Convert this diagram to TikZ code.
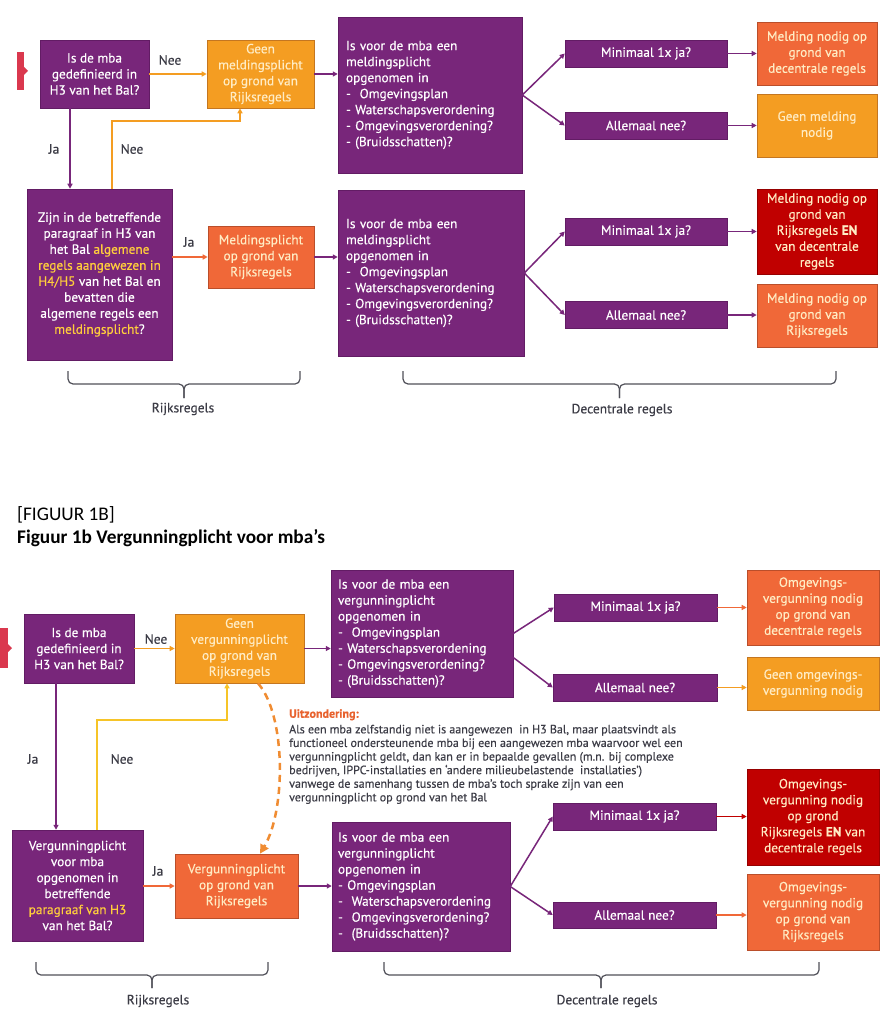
\documentclass[tikz,border=0pt]{standalone}
\usepackage{fontspec}
\setmainfont{PT Sans}[FakeBold=0.35]
\newfontfamily\calibri{Carlito}
\usetikzlibrary{arrows.meta,calc}
\definecolor{purp}{RGB}{120,38,122}
\definecolor{purpd}{RGB}{98,28,100}
\definecolor{orng}{RGB}{244,157,34}
\definecolor{orngd}{RGB}{196,118,32}
\definecolor{ored}{RGB}{240,104,56}
\definecolor{oredd}{RGB}{186,78,42}
\definecolor{dred}{RGB}{192,0,0}
\definecolor{dredd}{RGB}{150,0,0}
\definecolor{cream}{RGB}{255,236,196}
\definecolor{hyel}{RGB}{255,205,60}
\definecolor{nyel}{RGB}{246,196,40}
\definecolor{lblc}{RGB}{60,60,70}
\definecolor{markc}{RGB}{218,56,78}
\definecolor{dasho}{RGB}{240,140,50}
\definecolor{uitz}{RGB}{232,98,46}
\newcommand\hly[1]{\textcolor{hyel}{#1}}
\begin{document}
\begin{tikzpicture}[x=1pt,y=-1pt,
 box/.style={rectangle, inner sep=0pt, align=center, font=\fontsize{13.3}{16}\selectfont},
 pbox/.style={box, fill=purp, draw=purpd, line width=0.5pt, text=white},
 obox/.style={box, fill=orng, draw=orngd, line width=0.6pt, text=cream},
 rbox/.style={box, fill=ored, draw=oredd, line width=0.6pt, text=cream},
 dbox/.style={box, fill=dred, draw=dredd, line width=0.6pt, text=cream},
 lbox/.style={align=left},
 conn/.style={line width=1.5pt, -{Triangle[length=5pt,width=5pt]}},
 arP/.style={conn, draw=purp},
 arO/.style={conn, draw=orng},
 arY/.style={conn, draw=nyel},
 arR/.style={conn, draw=ored},
 arD/.style={conn, draw=dred},
 lbl/.style={text=lblc, font=\fontsize{13.5}{15}\selectfont, inner sep=0pt},
 bracestyle/.style={draw=lblc!90, line width=1.2pt, rounded corners=5pt},
]
\useasboundingbox (0,0) rectangle (882,1024);
\fill[white] (0,0) rectangle (882,1024);

% ================= TOP =================
\fill[markc] (17,52) rectangle (24,90);
\fill[markc] (24,67) -- (28,71) -- (24,75) -- cycle;

\node[pbox, minimum width=109, minimum height=68] (a1) at (94.5,74) {Is de mba\\gedefinieerd in\\H3 van het Bal?};
\node[obox, minimum width=107, minimum height=68] (b1) at (260.5,74) {Geen\\meldingsplicht\\op grond van\\Rijksregels};
\node[pbox, minimum width=145, minimum height=171] (c1) at (99.5,274.5) {Zijn in de betreffende\\paragraaf in H3 van\\het Bal \hly{algemene}\\\hly{regels aangewezen in}\\\hly{H4/H5} van het Bal en\\bevatten die\\algemene regels een\\\hly{meldingsplicht}?};
\node[rbox, minimum width=106, minimum height=62] (d1) at (261,257) {Meldingsplicht\\op grond van\\Rijksregels};
\node[pbox, lbox, minimum width=184, minimum height=156, text width=168] (e1) at (430,95) {Is voor de mba een\\meldingsplicht\\opgenomen in\\-\ \ Omgevingsplan\\- Waterschapsverordening\\- Omgevingsverordening?\\- (Bruidsschatten)?};
\node[pbox, minimum width=162, minimum height=27] (f1) at (646,53.5) {Minimaal 1x ja?};
\node[pbox, minimum width=162, minimum height=27] (g1) at (646,125.5) {Allemaal nee?};
\node[rbox, minimum width=120, minimum height=63] (h1) at (817,53.5) {Melding nodig op\\grond van\\decentrale regels};
\node[obox, minimum width=120, minimum height=63] (i1) at (817,125.5) {Geen melding\\nodig};

\node[pbox, lbox, minimum width=186, minimum height=166, text width=170] (e2) at (431,273) {Is voor de mba een\\meldingsplicht\\opgenomen in\\-\ \ Omgevingsplan\\- Waterschapsverordening\\- Omgevingsverordening?\\- (Bruidsschatten)?};
\node[pbox, minimum width=162, minimum height=27] (f2) at (646,231.5) {Minimaal 1x ja?};
\node[pbox, minimum width=162, minimum height=27] (g2) at (646,315) {Allemaal nee?};
\node[dbox, minimum width=120, minimum height=85] (h2) at (817,231.5) {Melding nodig op\\grond van\\Rijksregels \textbf{EN}\\van decentrale\\regels};
\node[rbox, minimum width=120, minimum height=63] (i2) at (817,315.5) {Melding nodig op\\grond van\\Rijksregels};

% connectors top
\draw[arO] (a1.east) -- (b1.west);
\coordinate (j1) at ([xshift=-24.5pt]a1.south);
\draw[arP] (j1) -- (j1 |- c1.north);
\coordinate (n1a) at ([xshift=12.5pt]c1.north);
\coordinate (n1b) at (240,121);
\draw[arO] (n1a) |- (n1b) -- (n1b |- b1.south);
\draw[arR] (c1.east |- d1.west) -- (d1.west);
\draw[arP] (b1.east) -- (b1.east -| e1.west);
\draw[arP] (d1.east) -- (d1.east -| e2.west);
\draw[arP] (e1.east) -- (f1.west);
\draw[arP] (e1.east) -- (g1.west);
\draw[arP] (f1.east) -- (f1.east -| h1.west);
\draw[arP] (g1.east) -- (g1.east -| i1.west);
\draw[arP] (e2.east) -- (f2.west);
\draw[arP] (e2.east) -- (g2.west);
\draw[arP] (f2.east) -- (f2.east -| h2.west);
\draw[arP] (g2.east) -- (g2.east -| i2.west);

\node[lbl] (l1) at (170,60) {Nee};
\node[lbl] (l2) at (54,149) {Ja};
\node[lbl] (l3) at (132,149) {Nee};
\node[lbl] (l4) at (189,242) {Ja};

% braces top
\draw[bracestyle] (68,371) -- (68,384) -- (184,384) -- (184,398);
\draw[bracestyle] (300,371) -- (300,384) -- (184,384) -- (184,398);
\node[lbl] (rr1) at (183,409) {Rijksregels};
\draw[bracestyle] (403,371) -- (403,384) -- (619.5,384) -- (619.5,398);
\draw[bracestyle] (836,371) -- (836,384) -- (619.5,384) -- (619.5,398);
\node[lbl] (dr1) at (622,410) {Decentrale regels};

% ================= TITLES =================
\node[anchor=west, inner sep=0pt, text=black, font=\calibri\fontsize{19.3}{22}\selectfont] (t1) at (17,515) {[FIGUUR 1B]};
\node[anchor=west, inner sep=0pt, text=black, font=\calibri\bfseries\fontsize{19.3}{22}\selectfont] (t2) at (17,538) {Figuur 1b Vergunningplicht voor mba’s};

% ================= BOTTOM =================
\fill[markc] (0,628) rectangle (8,668);
\fill[markc] (8,644) -- (12,648) -- (8,652) -- cycle;

\node[pbox, minimum width=110, minimum height=69] (a2) at (79,648.5) {Is de mba\\gedefinieerd in\\H3 van het Bal?};
\node[obox, minimum width=129, minimum height=69] (b2) at (239.5,648.5) {Geen\\vergunningplicht\\op grond van\\Rijksregels};
\node[pbox, minimum width=131, minimum height=111] (c2) at (77.5,885.5) {Vergunningplicht\\voor mba\\opgenomen in\\betreffende\\\hly{paragraaf van H3}\\van het Bal?};
\node[rbox, minimum width=123, minimum height=64] (d2) at (236.5,886) {Vergunningplicht\\op grond van\\Rijksregels};
\node[pbox, lbox, minimum width=182, minimum height=127, text width=168] (e3) at (422,633.5) {Is voor de mba een\\vergunningplicht\\opgenomen in\\-\ \ Omgevingsplan\\- Waterschapsverordening\\- Omgevingsverordening?\\- (Bruidsschatten)?};
\node[pbox, minimum width=163, minimum height=27] (f3) at (635.5,607.5) {Minimaal 1x ja?};
\node[pbox, minimum width=164, minimum height=27] (g3) at (635,687.5) {Allemaal nee?};
\node[rbox, minimum width=132, minimum height=75] (h3) at (813,607.5) {Omgevings-\\vergunning nodig\\op grond van\\decentrale regels};
\node[obox, minimum width=132, minimum height=53] (i3) at (813,683.5) {Geen omgevings-\\vergunning nodig};

\node[pbox, lbox, minimum width=178, minimum height=129, text width=166] (e4) at (421,886.5) {Is voor de mba een\\vergunningplicht\\opgenomen in\\- Omgevingsplan\\-\ \ Waterschapsverordening\\-\ \ Omgevingsverordening?\\-\ \ (Bruidsschatten)?};
\node[pbox, minimum width=163, minimum height=27] (f4) at (634.5,816.5) {Minimaal 1x ja?};
\node[pbox, minimum width=163, minimum height=26] (g4) at (634.5,915) {Allemaal nee?};
\node[dbox, minimum width=132, minimum height=96] (h4) at (813,817) {Omgevings-\\vergunning nodig\\op grond\\Rijksregels \textbf{EN} van\\decentrale regels};
\node[rbox, minimum width=132, minimum height=76] (i4) at (813,912) {Omgevings-\\vergunning nodig\\op grond van\\Rijksregels};

% connectors bottom
\draw[arO] (a2.east) -- (b2.west);
\coordinate (j2) at ([xshift=-23pt]a2.south);
\draw[arP] (j2) -- (j2 |- c2.north);
\coordinate (n2a) at ([xshift=19.5pt]c2.north);
\coordinate (n2b) at (227,720);
\draw[arY] (n2a) |- (n2b) -- (n2b |- b2.south);
\draw[arR] (c2.east |- d2.west) -- (d2.west);
\draw[arP] (b2.east) -- (b2.east -| e3.west);
\draw[arP] (d2.east) -- (d2.east -| e4.west);
\draw[arP] (e3.east) -- (f3.west);
\draw[arP] ([yshift=-24pt]e3.east) -- (g3.west);
\draw[arR] (f3.east) -- (f3.east -| h3.west);
\draw[arO] (g3.east) -- (g3.east -| i3.west);
\draw[arP] (e4.east) -- (f4.west);
\draw[arP] (e4.east) -- (g4.west);
\draw[arD] (f4.east) -- (f4.east -| h4.west);
\draw[arR] (g4.east) -- (g4.east -| i4.west);

\draw[draw=dasho, line width=2.5pt, dash pattern=on 7pt off 5pt, -{Triangle[length=9pt,width=9pt]}]
  ([xshift=18.5pt]b2.south) .. controls (286,715) and (286,810) .. ([xshift=23.5pt]d2.north);

\node[lbl] (l5) at (156,639) {Nee};
\node[lbl] (l6) at (33,759) {Ja};
\node[lbl] (l7) at (122,759) {Nee};
\node[lbl] (l8) at (158,871) {Ja};

\node[anchor=north west, inner sep=0pt, align=left, text=lblc, font=\fontsize{12}{13.6}\selectfont] (uz) at (289,709)
 {\textcolor{uitz}{\textbf{Uitzondering:}}\\[2pt]
 Als een mba zelfstandig niet is aangewezen\ \ in H3 Bal, maar plaatsvindt als\\
 functioneel ondersteunende mba bij een aangewezen mba waarvoor wel een\\
 vergunningplicht geldt, dan kan er in bepaalde gevallen (m.n. bij complexe\\
 bedrijven, IPPC-installaties en ‘andere milieubelastende\ \ installaties’)\\
 vanwege de samenhang tussen de mba’s toch sprake zijn van een\\
 vergunningplicht op grond van het Bal};

% braces bottom
\draw[bracestyle] (36,962) -- (36,975) -- (152,975) -- (152,988);
\draw[bracestyle] (268,962) -- (268,975) -- (152,975) -- (152,988);
\node[lbl] (rr2) at (158,1001) {Rijksregels};
\draw[bracestyle] (384,962) -- (384,975) -- (601,975) -- (601,988);
\draw[bracestyle] (819,962) -- (819,975) -- (601,975) -- (601,988);
\node[lbl] (dr2) at (607,1001) {Decentrale regels};
\end{tikzpicture}
\end{document}
